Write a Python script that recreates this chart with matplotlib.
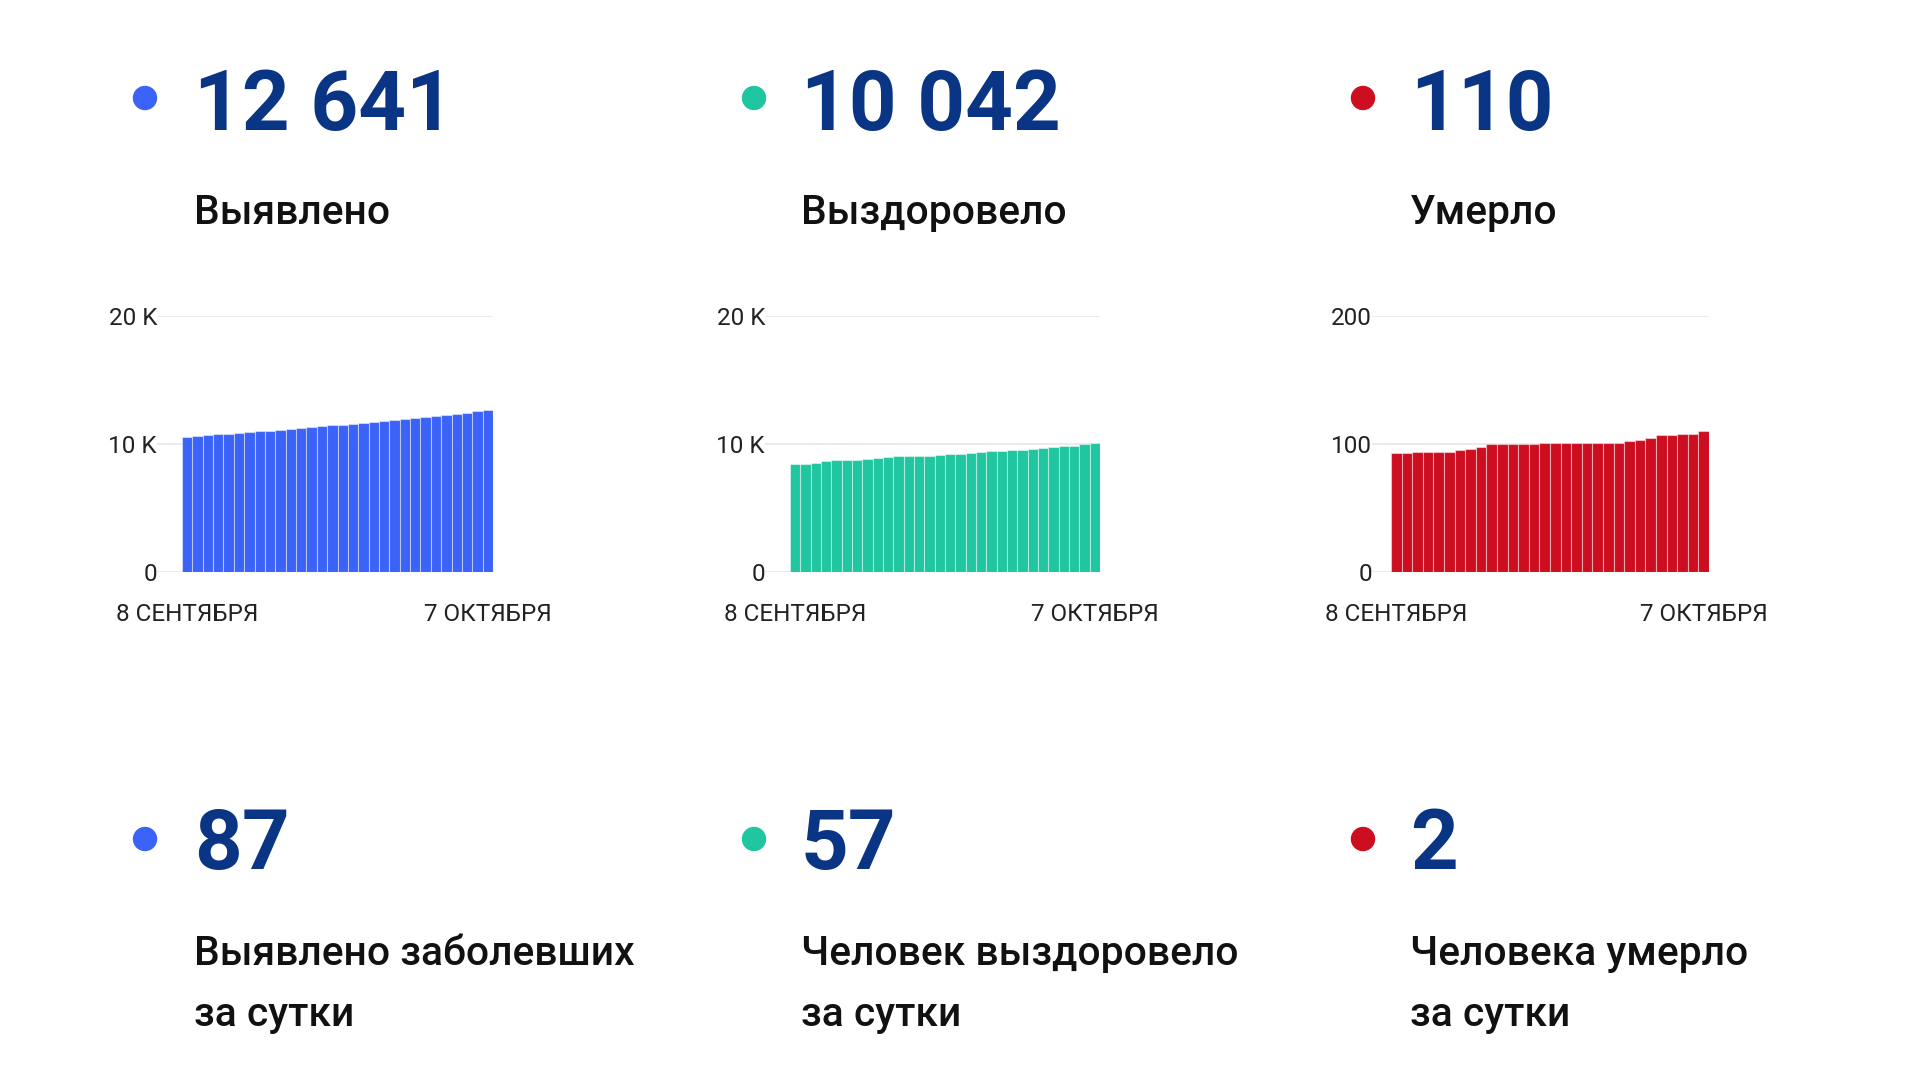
import matplotlib
matplotlib.use("Agg")
import matplotlib.pyplot as plt
from matplotlib.patches import Ellipse
import numpy as np

plt.rcParams['font.family'] = ['Roboto', 'DejaVu Sans']

# data
dates = ["8 СЕНТЯБРЯ", "7 ОКТЯБРЯ"]
totals = ["12 641", "10 042", "110"]
total_labels = ["Выявлено", "Выздоровело", "Умерло"]
daily = ["87", "57", "2"]
daily_labels = [["Выявлено заболевших", "за сутки"],
                ["Человек выздоровело", "за сутки"],
                ["Человека умерло", "за сутки"]]

cases = [10560, 10620, 10690, 10760, 10820, 10880, 10930, 10990, 11050, 11120,
         11190, 11250, 11320, 11390, 11450, 11510, 11580, 11650, 11720, 11790,
         11860, 11930, 12000, 12080, 12160, 12240, 12320, 12400, 12554, 12641]
recovered = [8407, 8410, 8512, 8642, 8721, 8725, 8747, 8825, 8903, 8956,
             9034, 9060, 9086, 9090, 9138, 9191, 9243, 9321, 9399, 9452,
             9478, 9504, 9530, 9582, 9661, 9765, 9817, 9843, 9985, 10042]
deaths = [93, 93, 94, 94, 94, 94, 95, 96, 98, 100,
          100, 100, 100, 100, 101, 101, 101, 101, 101, 101,
          101, 101, 102, 103, 105, 107, 107, 108, 108, 110]

series = [cases, recovered, deaths]
colors = ["#3b63f7", "#20c6a0", "#cc0e20"]
yticks = [[0, 10000, 20000], [0, 10000, 20000], [0, 100, 200]]
yticklabels = [["0", "10 K", "20 K"], ["0", "10 K", "20 K"], ["0", "100", "200"]]

navy = "#0a3585"
W, H = 1920, 1080

fig = plt.figure(figsize=(19.2, 10.8), dpi=100)
fig.patch.set_facecolor("white")

dot_x = [145, 754, 1363]
txt_x = [194, 801, 1410]
# chart geometry in pixels: axis left, bar start, bar end
chart_px = [(157, 182, 493), (765, 790, 1100), (1372, 1391, 1709)]
ax_top, ax_bot = 316, 572


def px(x, y):
    return x / W, 1 - y / H


for i in range(3):
    # top block
    fig.add_artist(Ellipse(px(dot_x[i], 98), 23 / W, 23 / H,
                           color=colors[i], transform=fig.transFigure))
    fig.text(*px(txt_x[i], 130), totals[i], fontsize=60, fontweight='bold',
             color=navy, va='baseline', ha='left')
    fig.text(*px(txt_x[i], 224), total_labels[i], fontsize=29.3,
             fontweight='medium', color='#111111', va='baseline', ha='left')

    # bottom block
    fig.add_artist(Ellipse(px(dot_x[i], 839), 23 / W, 23 / H,
                           color=colors[i], transform=fig.transFigure))
    fig.text(*px(txt_x[i], 869), daily[i], fontsize=60, fontweight='bold',
             color=navy, va='baseline', ha='left')
    fig.text(*px(txt_x[i], 965), daily_labels[i][0], fontsize=29.3,
             fontweight='medium', color='#111111', va='baseline', ha='left')
    fig.text(*px(txt_x[i], 1026), daily_labels[i][1], fontsize=29.3,
             fontweight='medium', color='#111111', va='baseline', ha='left')

    # chart
    left, b0, b1 = chart_px[i]
    ax = fig.add_axes([left / W, 1 - ax_bot / H, (b1 - left) / W,
                       (ax_bot - ax_top) / H])
    vals = series[i]
    n = len(vals)
    unit = (b1 - b0) / n
    x = np.arange(n)
    # faint separators between bars
    ax.bar(x, vals, width=1.0, color=colors[i], edgecolor=(1, 1, 1, 0.45),
           linewidth=0.8, zorder=3)
    ax.set_xlim(-0.5 - (b0 - left) / unit, n - 0.5)
    ax.set_ylim(0, yticks[i][-1])
    ax.set_yticks(yticks[i])
    ax.set_yticklabels(yticklabels[i], fontsize=17.5, color='#222222')
    ax.set_xticks([0, n - 1])
    ax.set_xticklabels(dates, fontsize=17.5, color='#222222')
    ax.tick_params(length=0, axis='y', pad=0)
    ax.tick_params(length=0, axis='x', pad=22)
    ax.grid(axis='y', color='#e8e8e8', linewidth=1.2, zorder=0)
    for s in ax.spines.values():
        s.set_visible(False)
    ax.set_facecolor('none')

fig.savefig("out.png", dpi=100, facecolor="white")
